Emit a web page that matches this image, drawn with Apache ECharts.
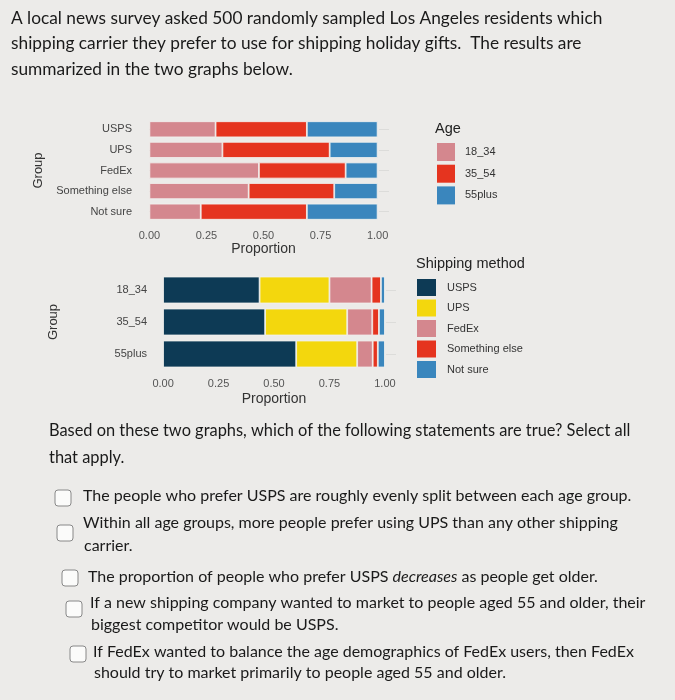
<!DOCTYPE html>
<html><head><meta charset="utf-8">
<script src="https://cdn.jsdelivr.net/npm/echarts@6/dist/echarts.min.js"></script>
<style>html,body{margin:0;padding:0;background:#ecebe9;}#c{width:675px;height:700px;}</style>
</head><body><div id="c"></div>
<script>
// ---- Data ----
const carriers = ['USPS', 'UPS', 'FedEx', 'Something else', 'Not sure'];
const ageGroups = ['18_34', '35_54', '55plus'];
// Top chart: proportion of each age group within each carrier
const age18_34 = [0.29, 0.32, 0.48, 0.435, 0.225];
const age35_54 = [0.40, 0.47, 0.38, 0.375, 0.465];
const age55plus = [0.31, 0.21, 0.14, 0.19, 0.31];
// Bottom chart: proportion of each shipping method within each age group
const uspsVals = [0.435, 0.46, 0.60];
const upsVals = [0.315, 0.37, 0.275];
const fedexVals = [0.19, 0.113, 0.07];
const elseVals = [0.042, 0.03, 0.023];
const notSureVals = [0.018, 0.027, 0.032];
const xTicks = [0, 0.25, 0.5, 0.75, 1];

const cPink = '#d4878e', cRed = '#e5341f', cBlue = '#3a86bd', cNavy = '#0d3a55', cYellow = '#f3d70d';
const chartFont = '"Liberation Sans", Arial, sans-serif';
const textFont = 'Lato, "Open Sans", sans-serif';

const chart = echarts.init(document.getElementById('c'), null, {renderer: 'canvas'});

function xAx(gridIndex, gap, margin) {
  return {
    type: 'value', gridIndex, min: -0.05, max: 1.05,
    name: 'Proportion', nameLocation: 'middle', nameGap: gap,
    nameTextStyle: {fontFamily: chartFont, fontSize: 14, color: '#333'},
    axisLine: {show: false}, axisTick: {show: false}, splitLine: {show: false},
    axisLabel: {margin, fontFamily: chartFont, fontSize: 11, color: '#555',
      customValues: xTicks, formatter: v => v.toFixed(2)}
  };
}
function yAx(gridIndex, data, gap, margin, tickLen) {
  return {
    type: 'category', gridIndex, data, inverse: true,
    name: 'Group', nameLocation: 'middle', nameRotate: 90, nameGap: gap,
    nameTextStyle: {fontFamily: chartFont, fontSize: 13, color: '#333'},
    axisLine: {show: false},
    axisTick: {show: true, inside: true, length: tickLen, alignWithLabel: true, lineStyle: {color: '#d0d0ce'}},
    axisLabel: {margin, fontFamily: chartFont, fontSize: 11, color: '#444'}
  };
}
function yAxRight(gridIndex, data, tickLen) {
  return {
    type: 'category', gridIndex, data, inverse: true, position: 'right',
    axisLine: {show: false}, axisLabel: {show: false},
    axisTick: {show: true, inside: true, length: tickLen, alignWithLabel: true, lineStyle: {color: '#dcdcda'}}
  };
}
function bar(name, data, color, xi, gap) {
  return {type: 'bar', name, data, stack: 's' + xi, xAxisIndex: xi, yAxisIndex: xi,
    barCategoryGap: gap, itemStyle: {color, borderColor: '#f2f2f0', borderWidth: 0.8},
    emphasis: {disabled: true}};
}

const header = [
  'A local news survey asked 500 randomly sampled Los Angeles residents which',
  'shipping carrier they prefer to use for shipping holiday gifts.  The results are',
  'summarized in the two graphs below.'
];
const headerY = [21, 46, 72];
const question = ['Based on these two graphs, which of the following statements are true? Select all', 'that apply.'];
const options = [
  {box: [55, 490], lines: [['The people who prefer USPS are roughly evenly split between each age group.', 83, 498]]},
  {box: [57, 525], lines: [['Within all age groups, more people prefer using UPS than any other shipping', 83, 525], ['carrier.', 84, 548]]},
  {box: [62, 570], lines: [['', 88, 579, true]]},
  {box: [66, 601], lines: [['If a new shipping company wanted to market to people aged 55 and older, their', 90, 605], ['biggest competitor would be USPS.', 91, 627]]},
  {box: [70, 646], lines: [['If FedEx wanted to balance the age demographics of FedEx users, then FedEx', 93, 654], ['should try to market primarily to people aged 55 and older.', 94, 675]]}
];

const graphics = [];
header.forEach((t, i) => graphics.push({type: 'text', left: 11, top: headerY[i] - 11,
  style: {text: t, font: '17.3px ' + textFont, fill: '#1a1a1a'}}));
question.forEach((t, i) => graphics.push({type: 'text', left: 49, top: [433, 460][i] - 10,
  style: {text: t, font: '16.4px ' + textFont, fill: '#1a1a1a'}}));
options.forEach(o => {
  graphics.push({type: 'rect', shape: {x: o.box[0], y: o.box[1], width: 16, height: 16, r: 3},
    style: {fill: '#fbfbfa', stroke: '#888', lineWidth: 1}});
  o.lines.forEach(l => {
    if (l[3]) {
      graphics.push({type: 'text', left: l[1], top: l[2] - 10, style: {
        rich: {n: {font: '16px ' + textFont, fill: '#1a1a1a'}, i: {font: 'italic 16px ' + textFont, fill: '#1a1a1a'}},
        text: '{n|The proportion of people who prefer USPS }{i|decreases}{n| as people get older.}'}});
    } else {
      graphics.push({type: 'text', left: l[1], top: l[2] - 10, style: {text: l[0], font: '16px ' + textFont, fill: '#1a1a1a'}});
    }
  });
});
graphics.push({type: 'text', left: 435, top: 121, style: {text: 'Age', font: '14.5px ' + chartFont, fill: '#222'}});
graphics.push({type: 'text', left: 416, top: 256, style: {text: 'Shipping method', font: '14.5px ' + chartFont, fill: '#222'}});

chart.setOption({
  backgroundColor: '#ecebe9',
  animation: false,
  grid: [
    {left: 138, right: 286, top: 119, height: 103},
    {left: 152, right: 279, top: 274, height: 96}
  ],
  xAxis: [xAx(0, 19, 8), xAx(1, 22, 8)],
  yAxis: [yAx(0, carriers, 93, 6, 11), yAx(1, ageGroups, 92, 5, 11), yAxRight(0, carriers, 10), yAxRight(1, ageGroups, 10)],
  legend: [
    {data: ageGroups, orient: 'vertical', left: 432, top: 138, itemWidth: 18, itemHeight: 18, itemGap: 3.7,
      icon: 'rect', selectedMode: false, itemStyle: {borderWidth: 0},
      textStyle: {fontFamily: chartFont, fontSize: 11, color: '#333', padding: [0, 0, 0, 5]}},
    {data: carriers, orient: 'vertical', left: 412, top: 274, itemWidth: 19, itemHeight: 17, itemGap: 3.5,
      icon: 'rect', selectedMode: false, itemStyle: {borderWidth: 0},
      textStyle: {fontFamily: chartFont, fontSize: 11, color: '#333', padding: [0, 0, 0, 6]}}
  ],
  series: [
    bar('18_34', age18_34, cPink, 0, '22%'),
    bar('35_54', age35_54, cRed, 0, '22%'),
    bar('55plus', age55plus, cBlue, 0, '22%'),
    bar('USPS', uspsVals, cNavy, 1, '16%'),
    bar('UPS', upsVals, cYellow, 1, '16%'),
    bar('FedEx', fedexVals, cPink, 1, '16%'),
    bar('Something else', elseVals, cRed, 1, '16%'),
    bar('Not sure', notSureVals, cBlue, 1, '16%')
  ],
  graphic: graphics
});
</script></body></html>
